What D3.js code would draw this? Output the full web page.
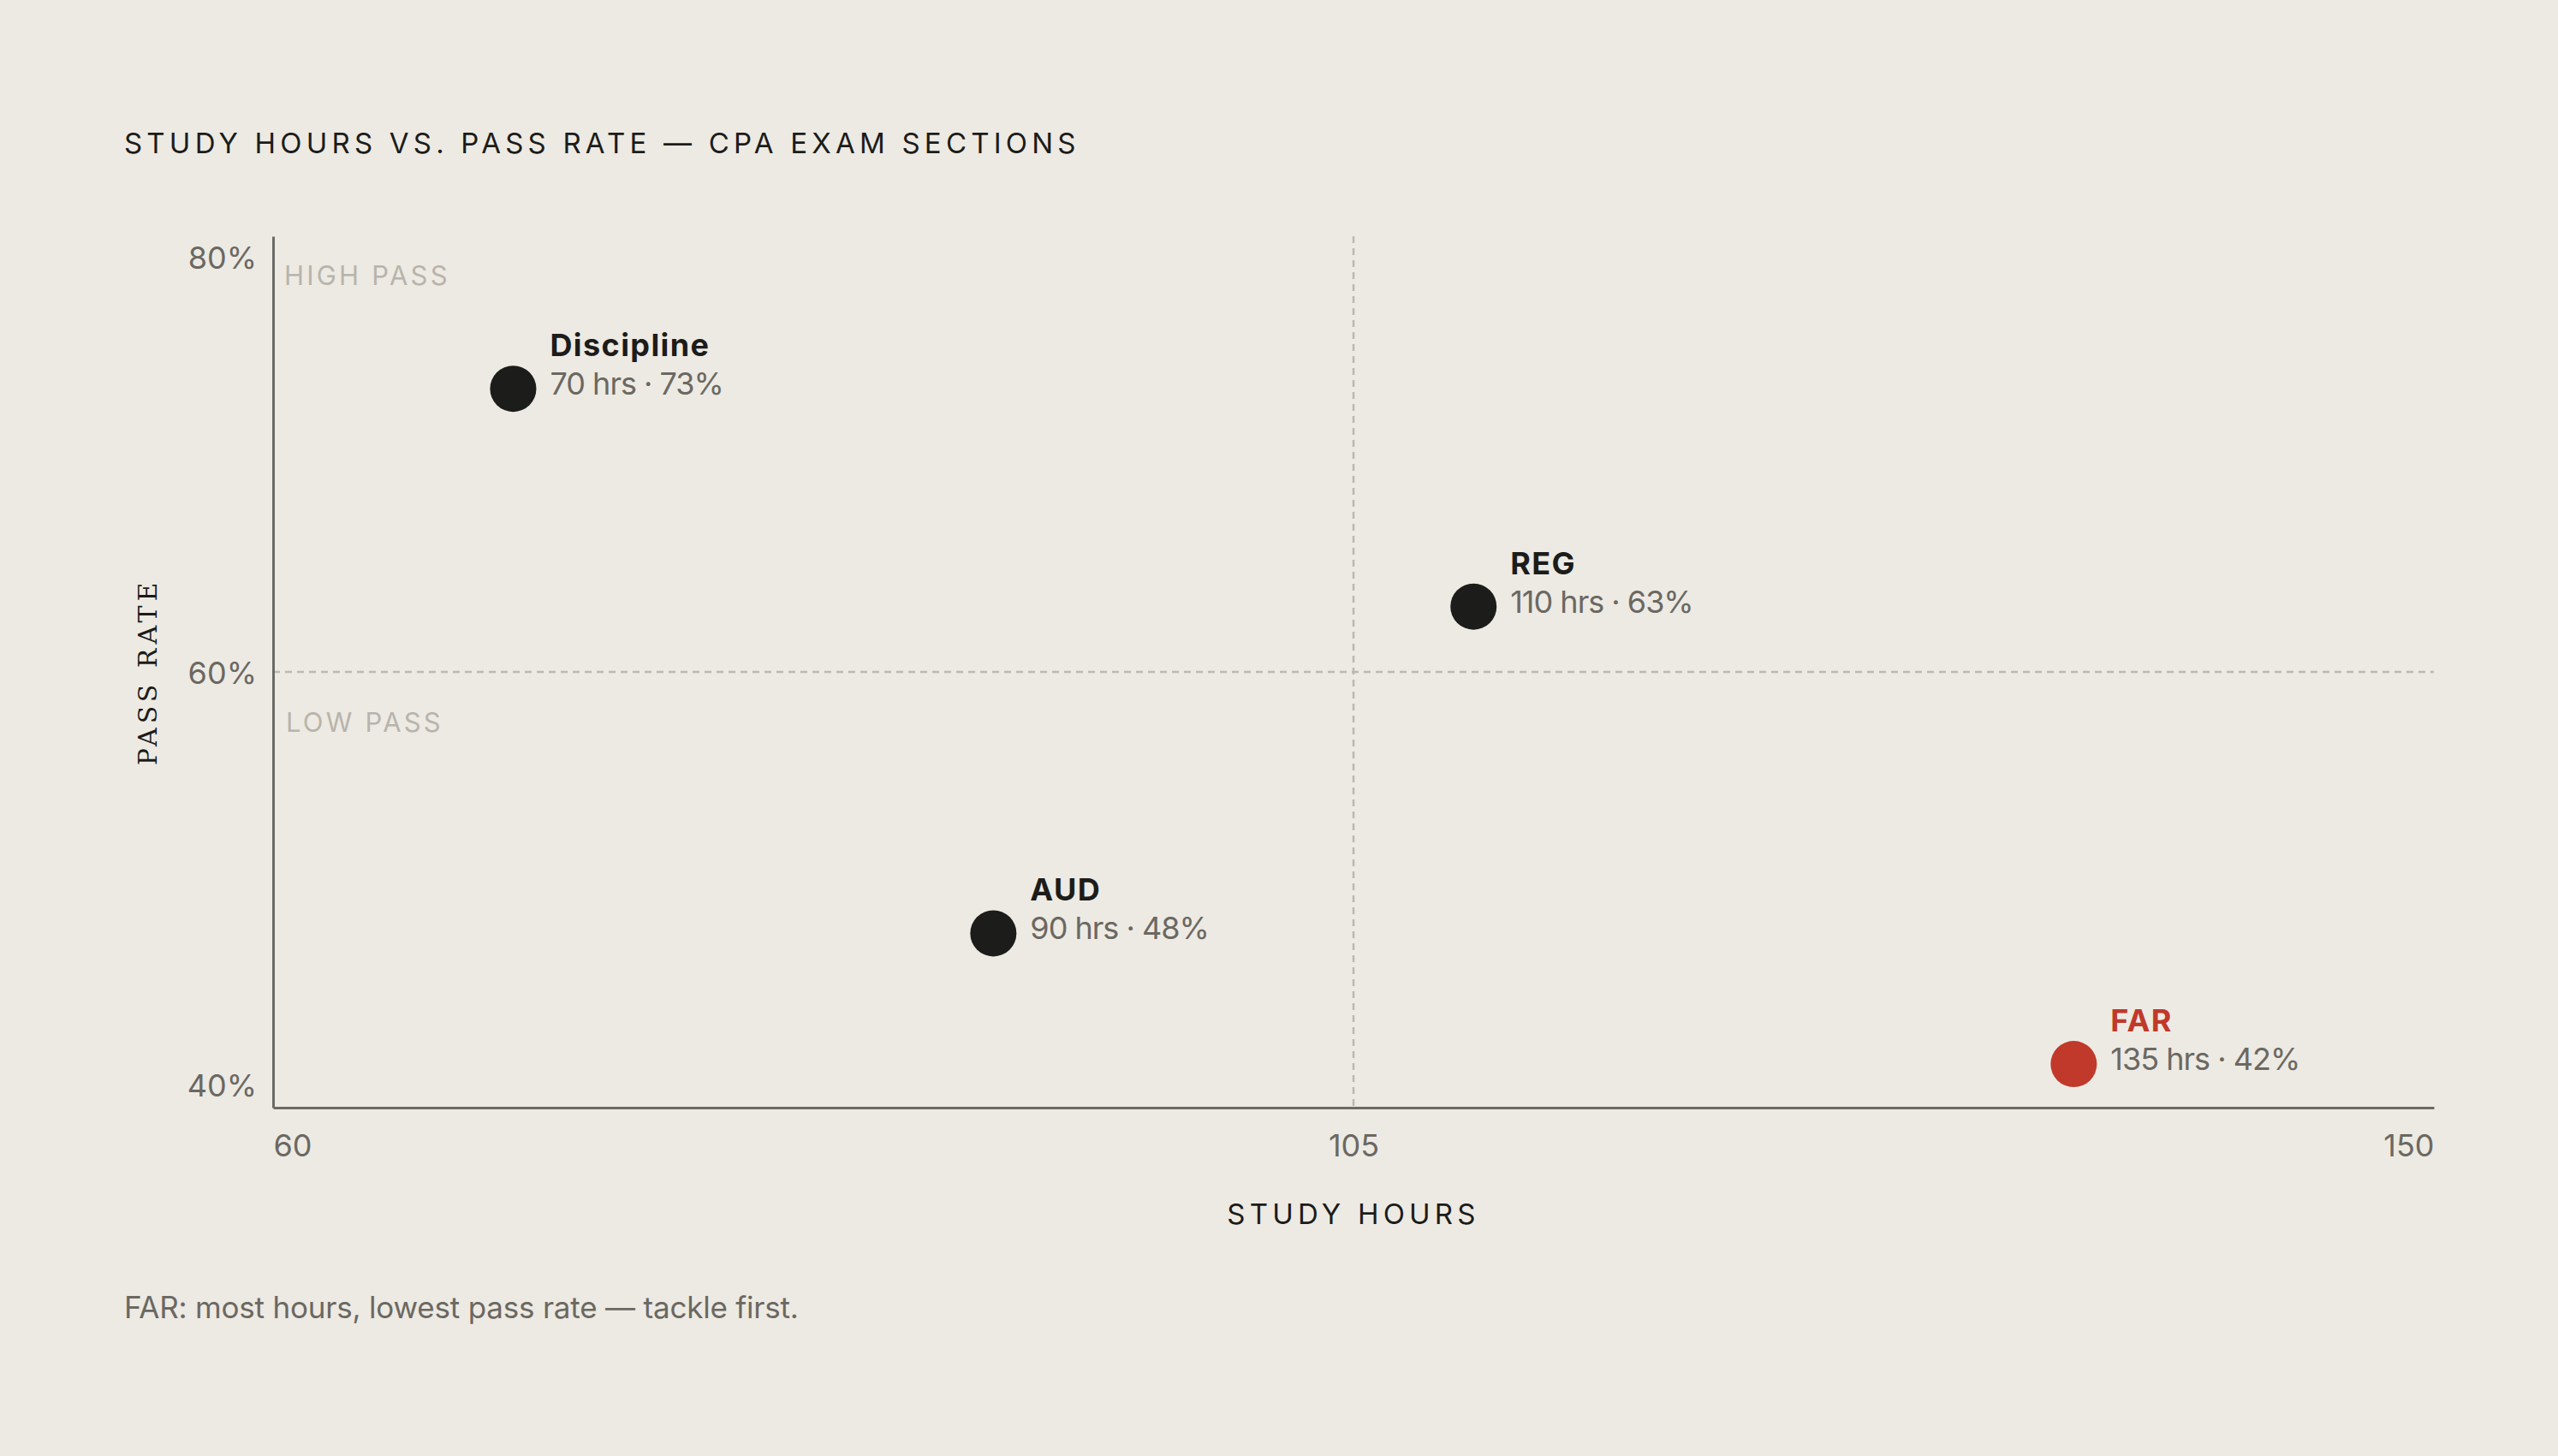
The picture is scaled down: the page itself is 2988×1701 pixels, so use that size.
<!DOCTYPE html>
<html>
<head>
  <meta charset="UTF-8">
  <title>Study Hours vs. Pass Rate</title>
  <script src="https://d3js.org/d3.v7.min.js"></script>
  <style>
    body {
      margin: 0;
      background: #edeae3;
      font-family: Inter, "Noto Sans", sans-serif;
    }
    svg {
      display: block;
      background: #edeae3;
    }
    .title, .x-title {
      fill: #1c1c1a;
      font-size: 33px;
      letter-spacing: 5.2px;
    }
    .y-title {
      fill: #1c1c1a;
      font-family: "DejaVu Serif", "Liberation Serif", serif;
      font-size: 30px;
      letter-spacing: 5px;
    }
    .tick text {
      fill: #6b6862;
      font-family: Inter, "Noto Sans", sans-serif;
      font-size: 36px;
    }
    .zone {
      fill: #b8b4ac;
      font-size: 31px;
      letter-spacing: 3.2px;
    }
    .name {
      font-size: 36px;
      font-weight: 700;
      letter-spacing: 1.4px;
    }
    .sub {
      fill: #6b6862;
      font-size: 36px;
      letter-spacing: -1px;
    }
    .note {
      fill: #6b6862;
      font-size: 35px;
      letter-spacing: -0.2px;
    }
  </style>
</head>
<body>

  <svg width="2988" height="1701"></svg>

  <script>
    // values
    const sections = ['Discipline', 'REG', 'AUD', 'FAR'];
    const hours = [70, 110, 90, 135];
    const passRates = [73, 63, 48, 42];
    const highlighted = ['FAR'];
    const xTicks = [60, 105, 150];
    const yTicks = [40, 60, 80];
    const xMid = 105;
    const yMid = 60;

    const points = sections.map((s, i) => ({ name: s, hrs: hours[i], rate: passRates[i] }));

    const svg = d3.select("svg");
    const margin = { top: 276, right: 145, bottom: 407, left: 319 };
    const w = +svg.attr("width") - margin.left - margin.right;
    const h = +svg.attr("height") - margin.top - margin.bottom;

    const ink = "#1c1c1a", red = "#c0392b", axisCol = "#6b6a65", dashCol = "#bdb8b0";

    svg.append("text")
      .attr("class", "title")
      .attr("x", 145)
      .attr("y", 179)
      .text("STUDY HOURS VS. PASS RATE — CPA EXAM SECTIONS");

    const g = svg.append("g").attr("transform", `translate(${margin.left},${margin.top})`);

    const x = d3.scaleLinear().domain([60, 150]).range([0, w]);
    const y = d3.scaleLinear().domain([40, 80]).range([h, 0]);

    // quadrant dividers
    g.append("line")
      .attr("x1", x(xMid)).attr("x2", x(xMid))
      .attr("y1", 0).attr("y2", h)
      .attr("stroke", dashCol).attr("stroke-width", 2.5)
      .attr("stroke-dasharray", "8,6");

    g.append("line")
      .attr("x1", 0).attr("x2", w)
      .attr("y1", y(yMid)).attr("y2", y(yMid))
      .attr("stroke", dashCol).attr("stroke-width", 2.5)
      .attr("stroke-dasharray", "8,6");

    // x axis
    const xAxis = g.append("g")
      .attr("transform", `translate(0,${h})`)
      .call(d3.axisBottom(x).tickValues(xTicks).tickSize(0).tickPadding(0).tickFormat(d3.format("d")));
    xAxis.select(".domain").attr("stroke", axisCol).attr("stroke-width", 3);
    xAxis.selectAll(".tick text")
      .attr("y", 57)
      .attr("dy", null)
      .attr("text-anchor", (d, i) => i === 0 ? "start" : i === xTicks.length - 1 ? "end" : "middle");

    // y axis
    const yAxis = g.append("g")
      .call(d3.axisLeft(y).tickValues(yTicks).tickSize(0).tickPadding(19).tickFormat(d => d + "%"));
    yAxis.select(".domain").attr("stroke", axisCol).attr("stroke-width", 3);
    yAxis.selectAll(".tick text")
      .attr("dy", (d, i) => i === 0 ? "-14px" : i === yTicks.length - 1 ? "37px" : "13px");

    // zone labels
    g.append("text").attr("class", "zone")
      .attr("x", 13).attr("y", 57)
      .text("HIGH PASS");
    g.append("text").attr("class", "zone")
      .attr("x", 15).attr("y", y(yMid) + 70)
      .text("LOW PASS");

    // axis titles
    svg.append("text")
      .attr("class", "x-title")
      .attr("text-anchor", "middle")
      .attr("x", margin.left + w / 2)
      .attr("y", 1430)
      .text("STUDY HOURS");

    svg.append("text")
      .attr("class", "y-title")
      .attr("text-anchor", "middle")
      .attr("transform", `translate(183,${margin.top + h / 2}) rotate(-90)`)
      .text("PASS RATE");

    // points
    const pt = g.selectAll(".pt")
      .data(points)
      .enter()
      .append("g")
      .attr("class", "pt")
      .attr("transform", d => `translate(${x(d.hrs)},${y(d.rate)})`);

    pt.append("circle")
      .attr("r", 27)
      .attr("fill", d => highlighted.includes(d.name) ? red : ink);

    pt.append("text")
      .attr("class", "name")
      .attr("x", 43)
      .attr("y", -38)
      .attr("fill", d => highlighted.includes(d.name) ? red : ink)
      .text(d => d.name);

    pt.append("text")
      .attr("class", "sub")
      .attr("x", 43)
      .attr("y", 7)
      .text(d => `${d.hrs} hrs · ${d.rate}%`);

    svg.append("text")
      .attr("class", "note")
      .attr("x", 145)
      .attr("y", 1540)
      .text("FAR: most hours, lowest pass rate — tackle first.");
  </script>

</body>
</html>
